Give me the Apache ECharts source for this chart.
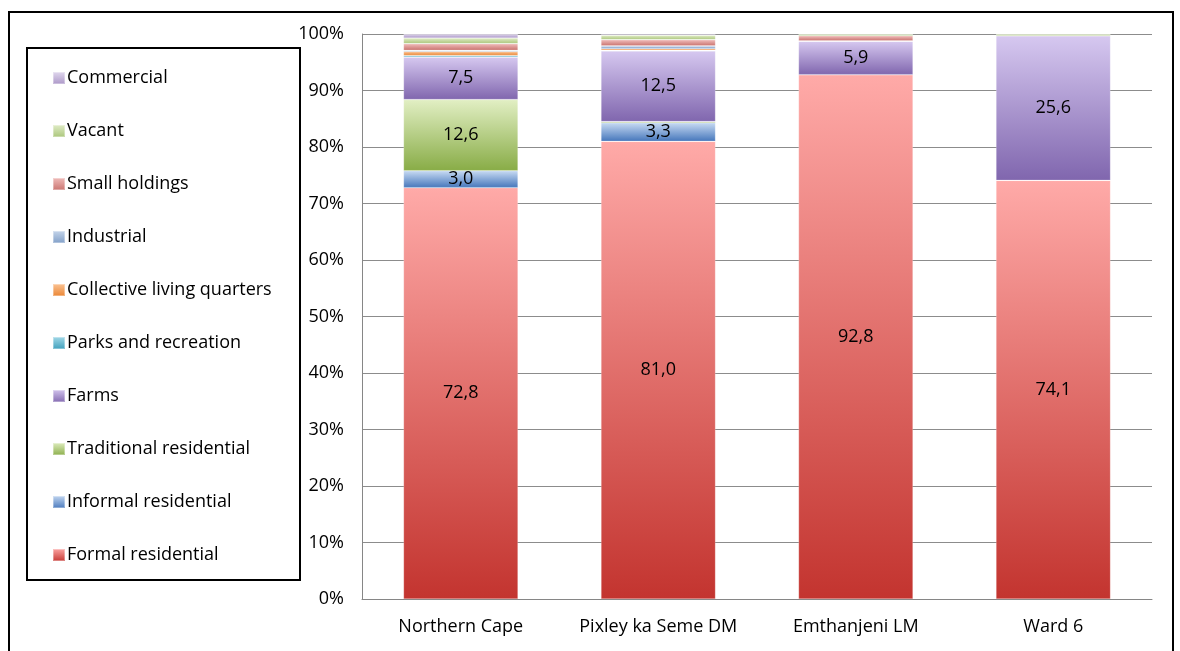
<!DOCTYPE html>
<html>
<head>
<meta charset="utf-8">
<script src="https://cdn.jsdelivr.net/npm/echarts@6/dist/echarts.min.js"></script>
<style>html,body{margin:0;padding:0;background:#fff}#c{width:1180px;height:651px}</style>
</head>
<body>
<div id="c"></div>
<script>
const categories = ["Northern Cape", "Pixley ka Seme DM", "Emthanjeni LM", "Ward 6"];
const seriesNames = ["Formal residential", "Informal residential", "Traditional residential", "Farms",
  "Parks and recreation", "Collective living quarters", "Industrial", "Small holdings", "Vacant", "Commercial"];
const formalResidential = [72.8, 81.0, 92.8, 74.1];
const informalResidential = [3.0, 3.3, 0.0, 0.0];
const traditionalResidential = [12.6, 0.2, 0.0, 0.0];
const farms = [7.5, 12.5, 5.9, 25.6];
const parksAndRecreation = [0.3, 0.1, 0.1, 0.0];
const collectiveLivingQuarters = [0.7, 0.3, 0.0, 0.0];
const industrial = [0.2, 0.5, 0.0, 0.0];
const smallHoldings = [1.2, 1.1, 0.9, 0.0];
const vacant = [1.0, 0.8, 0.3, 0.3];
const commercial = [0.7, 0.2, 0.0, 0.0];
const yTickLabels = ["0%", "10%", "20%", "30%", "40%", "50%", "60%", "70%", "80%", "90%", "100%"];

const values = [formalResidential, informalResidential, traditionalResidential, farms,
  parksAndRecreation, collectiveLivingQuarters, industrial, smallHoldings, vacant, commercial];
const colorPairs = [
  ["#ffaaa8", "#c3342f"],
  ["#c8dbf3", "#4576bb"],
  ["#e2efc4", "#88ac46"],
  ["#d6c8f0", "#8066ae"],
  ["#a8dcea", "#3a9dba"],
  ["#fcc79a", "#e9822e"],
  ["#c9d8ec", "#7d9cc6"],
  ["#f2c0be", "#c8706c"],
  ["#e3eecb", "#a8c477"],
  ["#e4dcf0", "#a994c6"]
];
const fmt = v => v.toFixed(1).replace('.', ',');
const grad = p => new echarts.graphic.LinearGradient(0, 0, 0, 1, [
  {offset: 0, color: p[0]}, {offset: 1, color: p[1]}]);

const FONT = "Open Sans";
const FS = 18;
const series = seriesNames.map((name, i) => ({
  name: name,
  type: 'bar',
  stack: 'total',
  barWidth: '58%',
  data: values[i],
  itemStyle: {color: grad(colorPairs[i]), borderColor: 'rgba(255,255,255,0.35)', borderWidth: 0.6},
  label: {
    show: true,
    position: 'inside',
    color: '#000',
    fontFamily: FONT,
    fontSize: FS,
    formatter: p => (p.value >= 2 ? fmt(p.value) : '')
  },
  emphasis: {disabled: true}
}));

const chart = echarts.init(document.getElementById('c'));
chart.setOption({
  animation: false,
  backgroundColor: '#fff',
  grid: {left: 362, right: 28, top: 34, bottom: 52, containLabel: false},
  legend: {
    orient: 'vertical',
    left: 47,
    top: 63,
    itemGap: 33,
    itemWidth: 12,
    itemHeight: 12,
    icon: 'rect',
    data: seriesNames.slice().reverse(),
    textStyle: {fontFamily: FONT, fontSize: FS, lineHeight: 20, color: '#000', padding: [0, 0, 0, -3]},
    selectedMode: false
  },
  xAxis: {
    type: 'category',
    data: categories,
    axisLine: {lineStyle: {color: '#868686'}},
    axisTick: {show: false},
    axisLabel: {fontFamily: FONT, fontSize: FS, color: '#000', margin: 19, interval: 0, hideOverlap: false}
  },
  yAxis: {
    type: 'value',
    min: 0,
    max: 100,
    interval: 10,
    axisLine: {show: true, lineStyle: {color: '#868686'}},
    axisTick: {show: false},
    splitLine: {lineStyle: {color: '#8c8c8c'}},
    axisLabel: {fontFamily: FONT, fontSize: FS, color: '#000', margin: 18,
      formatter: v => yTickLabels[Math.round(v / 10)]}
  },
  graphic: [
    {type: 'rect', shape: {x: 9, y: 12, width: 1164, height: 660}, style: {fill: 'none', stroke: '#000', lineWidth: 2}, silent: true},
    {type: 'rect', shape: {x: 27, y: 48, width: 273, height: 532}, style: {fill: 'none', stroke: '#000', lineWidth: 2}, silent: true, z: 10}
  ],
  series: series
});
</script>
</body>
</html>
